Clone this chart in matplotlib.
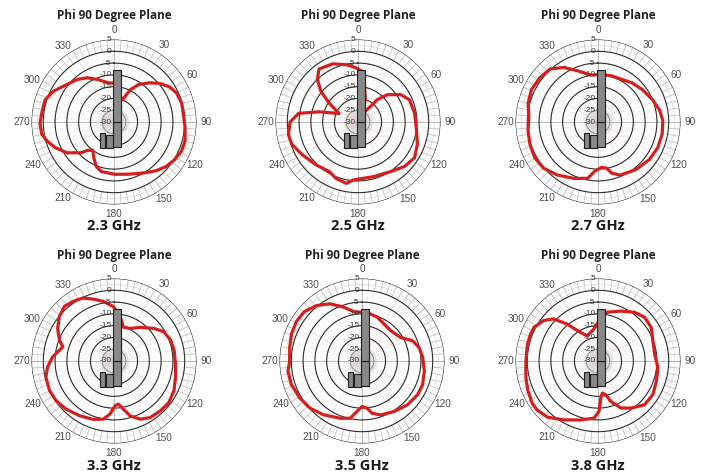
import numpy as np
import matplotlib
matplotlib.use("Agg")
import matplotlib.pyplot as plt
from matplotlib.patches import Rectangle

# ---------------- data ----------------
freq_labels = ["2.3 GHz", "2.5 GHz", "2.7 GHz", "3.3 GHz", "3.5 GHz", "3.8 GHz"]
plot_title = "Phi 90 Degree Plane"
ring_values = [5, 0, -5, -10, -15, -20, -25, -30]
angle_labels = [0, 30, 60, 90, 120, 150, 180, 210, 240, 270, 300, 330]

ang_23 = [0, 8, 15, 21, 26.8, 33.6, 41.8, 49.6, 57.7, 65.1, 74.5, 83, 94, 104.8, 113.2, 121.7, 130.4,
          139.3, 151, 164.3, 178.9, 194.3, 201.8, 209.3, 216.8, 222.9, 227.1, 236.7, 246.4, 254.4,
          260.6, 268.7, 276.7, 287.8, 297, 308.8, 319.4, 329, 339, 351.6]
gain_23 = [-13.5, -16, -19, -19.9, -14.6, -10.9, -7.7, -4.7, -2.1, -0.75, -0.2, -0.4, 0.2, 1.2, 1.2, 0.3,
           -0.9, -2.7, -5.2, -7.0, -7.8, -8.3, -9.7, -12.5, -15, -13.6, -10.8, -6.2, -2.8, -0.4,
           1.1, 1.4, 0.9, 0.7, -1.2, -4.5, -6.2, -8.1, -10.7, -13.2]

ang_25 = [0, 7, 10.3, 18, 29, 38.7, 40.7, 47, 57.6, 66.7, 81.4, 98.3, 110.5, 122.3, 133.7, 146.5, 164,
          184.7, 190.7, 201.2, 210, 224.8, 240, 251.5, 259.7, 270, 278.2, 284.7, 294, 303.2, 309.5,
          316.4, 323.7, 336.5, 348.6, 356.8]
gain_25 = [-7.5, -8.8, -14.5, -20, -25.9, -21.6, -17.6, -13, -8.4, -6.2, -5.7, -4.9, -3.1, -1.6, -2.7,
           -4.8, -5.9, -5.3, -3.5, -4.3, -5.7, -4.5, -2.5, -0.35, 0, -1.2, -4.5, -12.9, -21.2, -15.5,
           -9.6, -5, -2.1, -3.1, -5.2, -6.8]

ang_27 = [4.1, 16.5, 29.2, 41, 53.8, 67.9, 79, 88.5, 100.5, 113.2, 126.3, 141.8, 157.2, 165, 169.5,
          175.7, 184, 190.3, 203, 217.7, 229.8, 240.4, 252, 263, 274.2, 285, 296, 307.4, 318, 328,
          338.2, 351.7]
gain_27 = [-9.7, -9.6, -9.3, -8, -6.7, -5, -3.4, -2.5, -2.3, -2.4, -3, -4.2, -5.6, -7.5, -10.1,
           -10.7, -9, -5.7, -4, -1.6, 0.3, 0.8, 0.4, -0.1, -0.6, 0.7, 1.4, 1, 0.3, -2.7, -6.6, -9.9]

ang_33 = [8, 15.6, 26.3, 38, 50.6, 59.5, 69.7, 79.8, 92.5, 104.7, 116.3, 127, 137, 147.3, 155.7, 163.6,
          168.9, 174.2, 178.7, 184.3, 190.5, 199.7, 212, 224.8, 235.5, 245.4, 256.6, 264.8, 273.8,
          281.2, 285.4, 291, 300, 309.2, 317.8, 325.4, 333.8, 341.4, 349.8, 359.3]
gain_33 = [-11, -15.1, -14.6, -11.9, -8.2, -5.5, -4.4, -4.1, -3.9, -3, -1.6, -0.8, -1.1, -1.5, -2.9,
           -5.7, -9.2, -11.6, -11, -7.4, -4.9, -3.7, -2.6, -1.2, -0.2, 0.1, -0.3, -1.7, -3.9,
           -6.4, -7.5, -5.2, -2.4, -0.1, 1.3, 0.7, -0.2, -2.3, -4.3, -6.9]

ang_35 = [0, 10.1, 19.1, 30.6, 43.4, 58.7, 68.2, 76.8, 86.8, 99.2, 111.3, 121.2, 133.9, 147.7, 161,
          169, 173.9, 180, 185.7, 191.6, 200.9, 215.7, 227.9, 239.3, 251.6, 262.2, 270, 280.5, 290.9,
          301, 310.6, 320.7, 330.8, 341, 352]
gain_35 = [-9.3, -9.7, -10.3, -11.7, -12.3, -10.8, -6.9, -5.1, -4.2, -3.2, -2.4, -2.4, -3.2, -4.6, -5.8,
           -7.4, -9.9, -10.7, -8.5, -5.2, -4, -1.9, -0.2, 0.7, 1.6, 1.7, 0.7, 1.2, 2.0,
           2.5, 2.2, 0.4, -2.2, -5.8, -9.1]

ang_38 = [1.4, 5.4, 10.9, 24.7, 36.7, 46.7, 57.7, 69.8, 83.2, 96.4, 109.1, 121.5, 133.3, 145, 154,
          162.4, 167, 172.2, 175.8, 178.9, 184, 196.5, 210.2, 221.8, 231.3, 237.2, 247, 257, 270,
          283.3, 291.6, 297.5, 306.5, 313.4, 320, 328.5, 336.9, 352.8]
gain_38 = [-12.9, -10.2, -8.9, -6.7, -4.2, -2.9, -3.3, -5.2, -5.8, -4.4, -3.8, -2.7, -2.9, -5.6, -7.8,
           -12, -15.3, -16.3, -14.2, -8.6, -5.7, -3.9, -1.1, 2.0, 3.2, 3.2, 2.3, 1.4, 0.6,
           0.8, 0.8, 0.7, -1.2, -4, -9.5, -15.8, -18.4, -16.3]

series = [(ang_23, gain_23), (ang_25, gain_25), (ang_27, gain_27),
          (ang_33, gain_33), (ang_35, gain_35), (ang_38, gain_38)]

# ---------------- layout ----------------
W, H = 701, 474
fig = plt.figure(figsize=(W / 100, H / 100), dpi=100)
fig.patch.set_facecolor("white")

centers = [(114, 122), (358, 122), (598, 122), (114, 361), (362, 361), (598, 361)]
title_y = [16, 16, 16, 255, 255, 255]
label_y = [226, 226, 226, 466, 466, 466]
R = 82.5
RMIN, RMAX = -30, 5

TITLE_FONT = ["Liberation Sans Narrow", "Open Sans", "DejaVu Sans"]
TICK_FONT = ["Liberation Sans", "DejaVu Sans"]
# small angular nudges of the degree labels (display only)
label_nudge = {30: 3, 60: -1, 120: -2, 150: -3, 210: 4, 240: 2, 300: -3, 330: -4}

theta_full = np.linspace(0, 2 * np.pi, 361)


def frac(dx, dy):
    return 0.5 + dx / (2 * R), 0.5 + dy / (2 * R)


for i, ((cx, cy), (ang, gain)) in enumerate(zip(centers, series)):
    ax = fig.add_axes([(cx - R) / W, 1 - (cy + R) / H, 2 * R / W, 2 * R / H], projection="polar")
    ax.set_theta_zero_location("N")
    ax.set_theta_direction(-1)
    ax.set_ylim(RMIN, RMAX)
    ax.set_xticks([])
    ax.set_yticks([])
    ax.grid(False)
    ax.spines["polar"].set_visible(False)
    ax.set_facecolor("none")

    # inner light disc
    ax.fill_between(theta_full, RMIN, -24, color="#e2e2e2", lw=0, zorder=0)
    # dense radial grid lines inside
    for d in range(0, 360, 5):
        t = np.deg2rad(d)
        ax.plot([t, t], [RMIN, 0], color="#d6d6d6", lw=0.35, ls=(0, (2, 1.5)), zorder=1)
    # faint red dotted spokes
    for d in range(0, 360, 30):
        t = np.deg2rad(d)
        ax.plot([t, t], [RMIN, 5], color="#f2a8a8", lw=0.5, ls=(0, (1, 2)), zorder=1)
    # main axes
    for d in (0, 90, 180, 270):
        t = np.deg2rad(d)
        ax.plot([t, t], [RMIN, RMAX], color="#a8a8a8", lw=0.5, zorder=1)
    # outer band ticks
    for d in np.arange(0, 360, 5):
        t = np.deg2rad(d)
        ax.plot([t, t], [0.4, 4.6], color="#b4b4b4", lw=0.5, zorder=1)
    ax.plot(theta_full, np.full_like(theta_full, 2.5), color="#d0d0d0", lw=0.4, zorder=1)
    # rings
    for rv in ring_values[:-1]:
        col = "#2a2a2a" if rv >= -20 else "#888888"
        lw = 0.8 if rv >= -20 else 0.6
        ax.plot(theta_full, np.full_like(theta_full, rv), color=col, lw=lw, zorder=2)

    # ring labels
    for rv in ring_values:
        xf, yf = frac(-2.5, (rv - RMIN) / (RMAX - RMIN) * R)
        ax.text(xf, yf, str(rv), transform=ax.transAxes, ha="right", va="center",
                fontsize=6, color="#3a3a3a", zorder=6, family=TICK_FONT)

    # angle labels
    for a in angle_labels:
        ax.text(np.deg2rad(a + label_nudge.get(a, 0)), 8.9, str(a), ha="center", va="center",
                fontsize=7.2, color="#4a4a4a", clip_on=False, family=TICK_FONT)

    # pattern
    a = np.deg2rad(np.append(ang, ang[0]))
    g = np.append(gain, gain[0])
    ax.plot(a, g, color="#d41f1f", lw=2.3, zorder=4, clip_on=False,
            solid_joinstyle="round", solid_capstyle="round")

    # antenna icon
    bar_kw = dict(transform=ax.transAxes, facecolor="#888888", edgecolor="#1e1e1e", lw=0.8, zorder=5)
    x0, y0 = frac(-1, -25)
    ax.add_patch(Rectangle((x0, y0), 8 / (2 * R), 25 / (2 * R), **bar_kw))
    x0, y0 = frac(-1, 0)
    ax.add_patch(Rectangle((x0, y0), 8 / (2 * R), 52 / (2 * R), **bar_kw))
    x0, y0 = frac(-14, -26)
    ax.add_patch(Rectangle((x0, y0), 5 / (2 * R), 15 / (2 * R), **bar_kw))
    x0, y0 = frac(-8, -26)
    ax.add_patch(Rectangle((x0, y0), 7 / (2 * R), 13 / (2 * R), **bar_kw))

    # titles
    fig.text(cx / W, 1 - title_y[i] / H, plot_title, ha="center", va="center",
             fontsize=8.5, fontweight="bold", color="#222222", family=TITLE_FONT)
    fig.text(cx / W, 1 - label_y[i] / H, freq_labels[i], ha="center", va="center",
             fontsize=10.5, fontweight="bold", color="#1a1a1a", family=TITLE_FONT)

fig.savefig("out.png", dpi=100, facecolor="white")
